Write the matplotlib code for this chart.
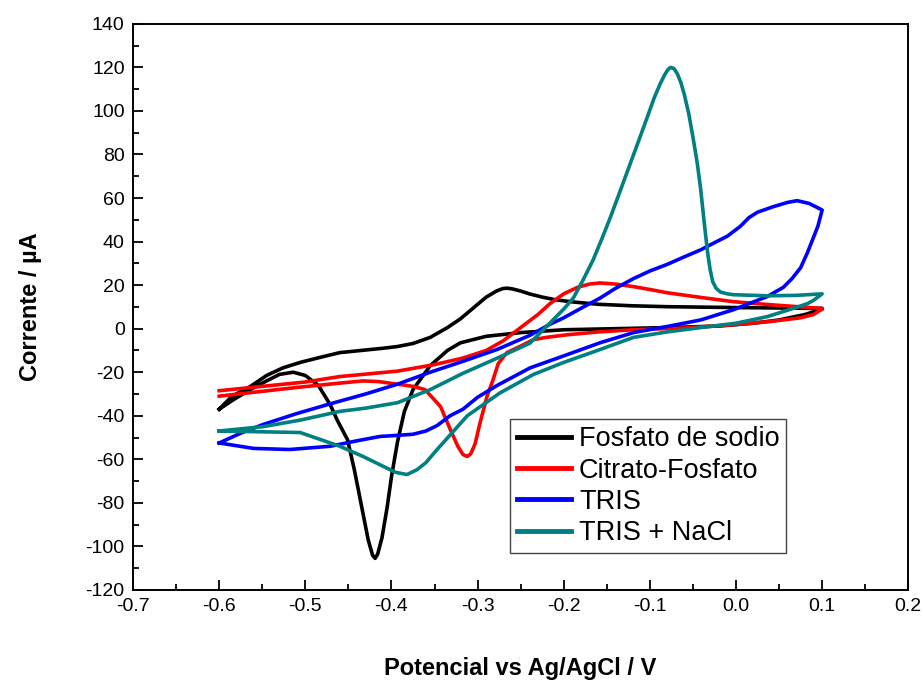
import matplotlib
matplotlib.use("Agg")
import matplotlib.pyplot as plt
from matplotlib.ticker import MultipleLocator, FormatStrFormatter

plt.rcParams["font.family"] = ["Liberation Sans", "DejaVu Sans"]
plt.rcParams["axes.unicode_minus"] = False

# cyclic voltammograms, one closed loop per buffer (potential V, current uA)
fosfato_v = [-0.600, -0.585, -0.564, -0.545, -0.526, -0.506, -0.486, -0.460, -0.430, -0.410,
             -0.393, -0.375, -0.355, -0.335, -0.320, -0.305, -0.290, -0.278, -0.271, -0.266, -0.260,
             -0.250, -0.240, -0.225, -0.210, -0.190, -0.160, -0.120, -0.080, -0.040, 0.000, 0.050, 0.100,
             0.100, 0.080, 0.050, 0.020, -0.020, -0.080, -0.140, -0.200, -0.250, -0.290, -0.320,
             -0.335, -0.355, -0.375, -0.385, -0.393, -0.400, -0.405, -0.411, -0.416, -0.419, -0.422,
             -0.427, -0.431, -0.436, -0.443, -0.451, -0.463, -0.471, -0.485, -0.500, -0.514, -0.530,
             -0.545, -0.564, -0.585, -0.600]
fosfato_i = [-37.0, -31.0, -26.6, -21.5, -18.0, -15.5, -13.5, -11.0, -9.8, -9.0,
             -8.2, -6.8, -4.0, 0.5, 4.5, 9.5, 14.5, 17.3, 18.4, 18.6, 18.3,
             17.3, 16.0, 14.5, 13.3, 12.3, 11.2, 10.5, 10.1, 9.9, 9.7, 9.5, 9.3,
             9.0, 6.5, 4.0, 2.5, 1.2, 0.5, 0.0, -0.5, -1.8, -3.5, -6.5,
             -10.0, -17.0, -28.0, -38.0, -52.0, -68.0, -82.0, -96.0, -103.5, -105.5, -104.0,
             -97.0, -89.0, -79.0, -65.0, -51.0, -42.0, -35.0, -26.0, -21.5, -20.0, -21.0,
             -24.0, -28.0, -33.0, -37.0]

citrato_v = [-0.600, -0.550, -0.500, -0.460, -0.393, -0.350, -0.317, -0.290, -0.270, -0.250,
             -0.230, -0.216, -0.200, -0.184, -0.170, -0.158, -0.140, -0.119, -0.100, -0.080,
             -0.040, -0.003, 0.040, 0.075, 0.100,
             0.100, 0.090, 0.075, 0.040, -0.003, -0.060, -0.119, -0.160, -0.196, -0.220,
             -0.235, -0.250, -0.266, -0.276, -0.282, -0.289, -0.297, -0.303, -0.308, -0.312, -0.317,
             -0.323, -0.332, -0.343, -0.361, -0.375, -0.393, -0.415, -0.433, -0.460, -0.510, -0.555, -0.600]
citrato_i = [-28.5, -26.5, -24.5, -22.0, -19.5, -16.5, -13.5, -10.0, -5.5, 0.5,
             6.5, 11.5, 16.0, 19.0, 20.5, 21.0, 20.5, 19.3, 18.0, 16.5,
             14.3, 12.4, 11.0, 10.0, 9.3,
             9.0, 6.5, 5.0, 3.3, 1.8, 0.3, -0.5, -1.5, -2.8, -4.0,
             -5.0, -8.0, -11.0, -16.0, -23.4, -31.0, -43.0, -53.0, -57.5, -58.7, -57.8,
             -54.0, -46.0, -35.8, -28.0, -26.5, -25.5, -24.3, -24.0, -25.0, -27.0, -29.0, -31.0]

tris_v = [-0.600, -0.575, -0.549, -0.510, -0.471, -0.430, -0.393, -0.355, -0.317, -0.277,
          -0.239, -0.216, -0.200, -0.177, -0.158, -0.140, -0.119, -0.100, -0.080, -0.060,
          -0.041, -0.025, -0.010, 0.005, 0.015, 0.025, 0.043, 0.060, 0.071, 0.085, 0.100,
          0.095, 0.090, 0.083, 0.075, 0.065, 0.055, 0.036, 0.015, -0.003, -0.041, -0.080,
          -0.119, -0.158, -0.200, -0.239, -0.277, -0.300, -0.317, -0.332, -0.347, -0.360,
          -0.375, -0.393, -0.413, -0.440, -0.471, -0.518, -0.560, -0.600]
tris_i = [-52.5, -48.0, -44.0, -39.0, -34.5, -30.0, -25.5, -20.0, -15.0, -9.5,
          -3.0, 2.0, 5.0, 10.0, 14.0, 18.5, 23.0, 26.5, 29.5, 33.0,
          36.2, 39.5, 42.5, 47.0, 51.0, 53.5, 56.0, 58.0, 58.8, 57.5, 54.5,
          47.0, 42.0, 35.0, 28.0, 23.0, 19.0, 14.7, 11.5, 8.7, 4.0, 1.0,
          -1.8, -6.5, -12.5, -18.0, -26.0, -31.5, -37.0, -40.0, -44.5, -47.0,
          -48.5, -49.0, -49.5, -51.5, -54.0, -55.5, -55.0, -52.5]

tris_nacl_v = [-0.600, -0.549, -0.506, -0.460, -0.430, -0.393, -0.355, -0.317, -0.277, -0.239,
               -0.215, -0.200, -0.189, -0.178, -0.166, -0.156, -0.146, -0.131, -0.117, -0.105,
               -0.095, -0.088, -0.083, -0.079, -0.076, -0.072, -0.068, -0.064, -0.060, -0.055,
               -0.050, -0.045, -0.041, -0.037, -0.033, -0.030, -0.027, -0.023, -0.018, -0.010,
               -0.003, 0.036, 0.070, 0.100,
               0.090, 0.083, 0.060, 0.036, 0.000, -0.041, -0.080, -0.119, -0.158, -0.200,
               -0.235, -0.274, -0.312, -0.330, -0.347, -0.360, -0.370, -0.382, -0.395, -0.402,
               -0.433, -0.460, -0.506, -0.600]
tris_nacl_i = [-47.0, -45.0, -42.0, -38.0, -36.5, -34.0, -28.0, -20.5, -13.5, -6.6,
               3.0, 9.0, 14.0, 22.0, 31.5, 41.0, 51.0, 67.0, 82.0, 95.0,
               106.0, 112.5, 116.5, 119.0, 120.0, 119.5, 117.0, 113.0, 107.5, 99.0,
               88.0, 76.0, 64.0, 49.0, 35.0, 27.0, 21.5, 18.5, 16.8, 16.0,
               15.6, 15.1, 15.3, 16.0,
               13.0, 11.5, 8.5, 5.5, 2.5, 0.5, -1.5, -4.0, -9.6, -15.5,
               -21.0, -29.5, -40.0, -48.0, -55.5, -61.5, -64.7, -67.0, -66.0, -64.7,
               -58.7, -54.0, -47.7, -47.0]

labels = ["Fosfato de sodio", "Citrato-Fosfato", "TRIS", "TRIS + NaCl"]
colors = ["black", "#ff0000", "#0000ff", "#008080"]

fig = plt.figure(figsize=(9.24, 6.82), dpi=100)
ax = fig.add_axes([0.144, 0.135, 0.839, 0.83])

series = [(fosfato_v, fosfato_i), (citrato_v, citrato_i), (tris_v, tris_i), (tris_nacl_v, tris_nacl_i)]
for (v, i), lab, col in zip(series, labels, colors):
    ax.plot(v, i, color=col, lw=2.6, label=lab, solid_joinstyle="round")

ax.set_xlim(-0.7, 0.2)
ax.set_ylim(-120, 140)
ax.xaxis.set_major_locator(MultipleLocator(0.1))
ax.xaxis.set_minor_locator(MultipleLocator(0.05))
ax.xaxis.set_major_formatter(FormatStrFormatter("%.1f"))
ax.yaxis.set_major_locator(MultipleLocator(20))
ax.yaxis.set_minor_locator(MultipleLocator(10))
ax.tick_params(which="both", direction="in", top=False, right=False, labelsize=14, width=1.3)
ax.tick_params(which="major", length=7, pad=6)
ax.tick_params(which="minor", length=4)
for s in ax.spines.values():
    s.set_linewidth(1.4)

ax.set_xlabel("Potencial vs Ag/AgCl / V", fontsize=17, fontweight="bold")
ax.xaxis.set_label_coords(0.5, -0.118)
ax.set_ylabel("Corrente / µA", fontsize=17, fontweight="bold")
ax.yaxis.set_label_coords(-0.118, 0.5)

leg = ax.legend(loc="lower left", bbox_to_anchor=(0.486, 0.065), fontsize=19.5, frameon=True,
                fancybox=False, edgecolor="#444444", framealpha=1, borderaxespad=0,
                handlelength=2.0, handletextpad=0.3, labelspacing=0.2, borderpad=0.25)
leg.get_frame().set_linewidth(1.0)
for h in leg.get_lines():
    h.set_linewidth(3.5)

fig.savefig("out.png", dpi=100)
